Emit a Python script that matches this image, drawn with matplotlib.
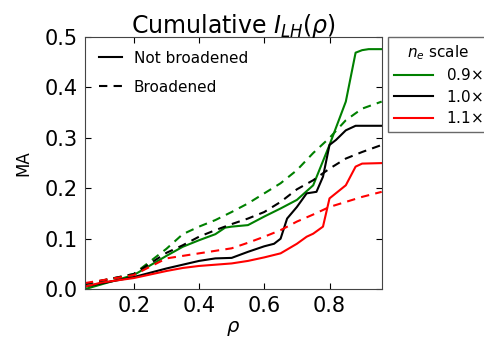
import matplotlib
matplotlib.use('Agg')
import matplotlib.pyplot as plt
from matplotlib.lines import Line2D

# cumulative LH current vs rho
rho_g = [0.05, 0.2, 0.3, 0.35, 0.4, 0.45, 0.48, 0.5, 0.55, 0.6, 0.65, 0.7, 0.75, 0.8, 0.85, 0.88, 0.9, 0.92, 0.96]
g_solid = [0.0, 0.028, 0.066, 0.084, 0.097, 0.109, 0.122, 0.124, 0.127, 0.144, 0.16, 0.177, 0.206, 0.286, 0.372, 0.469, 0.474, 0.476, 0.476]

rho_k = [0.05, 0.2, 0.3, 0.4, 0.45, 0.5, 0.55, 0.6, 0.63, 0.65, 0.67, 0.7, 0.73, 0.76, 0.78, 0.8, 0.82, 0.85, 0.88, 0.96]
k_solid = [0.005, 0.024, 0.041, 0.056, 0.061, 0.062, 0.074, 0.085, 0.09, 0.10, 0.14, 0.163, 0.19, 0.193, 0.223, 0.286, 0.296, 0.315, 0.324, 0.324]

rho_r = [0.05, 0.1, 0.2, 0.3, 0.35, 0.4, 0.5, 0.55, 0.6, 0.65, 0.7, 0.73, 0.75, 0.78, 0.8, 0.85, 0.88, 0.9, 0.96]
r_solid = [0.005, 0.013, 0.022, 0.036, 0.042, 0.046, 0.051, 0.056, 0.063, 0.071, 0.09, 0.104, 0.11, 0.124, 0.18, 0.206, 0.243, 0.249, 0.25]

rho_d = [0.05, 0.2, 0.3, 0.35, 0.4, 0.45, 0.5, 0.55, 0.6, 0.65, 0.7, 0.75, 0.8, 0.85, 0.9, 0.96]
g_dash = [0.01, 0.03, 0.08, 0.109, 0.124, 0.137, 0.153, 0.17, 0.19, 0.21, 0.236, 0.27, 0.30, 0.335, 0.358, 0.372]
k_dash = [0.01, 0.03, 0.072, 0.087, 0.104, 0.117, 0.129, 0.14, 0.153, 0.173, 0.198, 0.216, 0.239, 0.259, 0.272, 0.286]
r_dash = [0.012, 0.028, 0.061, 0.066, 0.071, 0.076, 0.081, 0.092, 0.104, 0.117, 0.134, 0.148, 0.163, 0.173, 0.183, 0.193]

scales = ['0.9$\\times$', '1.0$\\times$', '1.1$\\times$']
colors = ['green', 'black', 'red']
dash = (0, (4, 3))

fig = plt.figure(figsize=(4.85, 3.43), dpi=100)
ax = fig.add_axes([0.175, 0.157, 0.612, 0.735])

ax.plot(rho_g, g_solid, color='green', lw=1.5)
ax.plot(rho_k, k_solid, color='black', lw=1.5)
ax.plot(rho_r, r_solid, color='red', lw=1.5)
ax.plot(rho_d, g_dash, color='green', lw=1.5, ls=dash)
ax.plot(rho_d, k_dash, color='black', lw=1.5, ls=dash)
ax.plot(rho_d, r_dash, color='red', lw=1.5, ls=dash)

ax.set_xlim(0.05, 0.96)
ax.set_ylim(0, 0.5)
ax.set_xticks([0.2, 0.4, 0.6, 0.8])
ax.set_yticks([0.0, 0.1, 0.2, 0.3, 0.4, 0.5])
ax.tick_params(direction='in', top=True, right=True, labelsize=15, length=4, pad=5)
for s in ax.spines.values():
    s.set_color('#444444')
ax.set_xlabel(r'$\rho$', fontsize=14, labelpad=2)
ax.set_ylabel('MA', fontsize=12, labelpad=9)
ax.set_title(r'Cumulative $I_{LH}(\rho)$', fontsize=17, pad=3)

style_handles = [Line2D([], [], color='black', lw=1.5),
                 Line2D([], [], color='black', lw=1.5, ls=dash)]
leg1 = ax.legend(style_handles, ['Not broadened', 'Broadened'], loc='upper left',
                 frameon=False, fontsize=11, handlelength=1.5, labelspacing=0.9,
                 borderaxespad=0.5)
ax.add_artist(leg1)

color_handles = [Line2D([], [], color=c, lw=1.5) for c in colors]
leg2 = ax.legend(color_handles, scales, title='$n_e$ scale', loc='upper left',
                 bbox_to_anchor=(1.02, 1.0), fontsize=11, title_fontsize=11,
                 fancybox=False, borderaxespad=0, handlelength=2.6, labelspacing=0.35)
leg2.get_frame().set_edgecolor('#444444')

fig.savefig('out.png', dpi=100)
